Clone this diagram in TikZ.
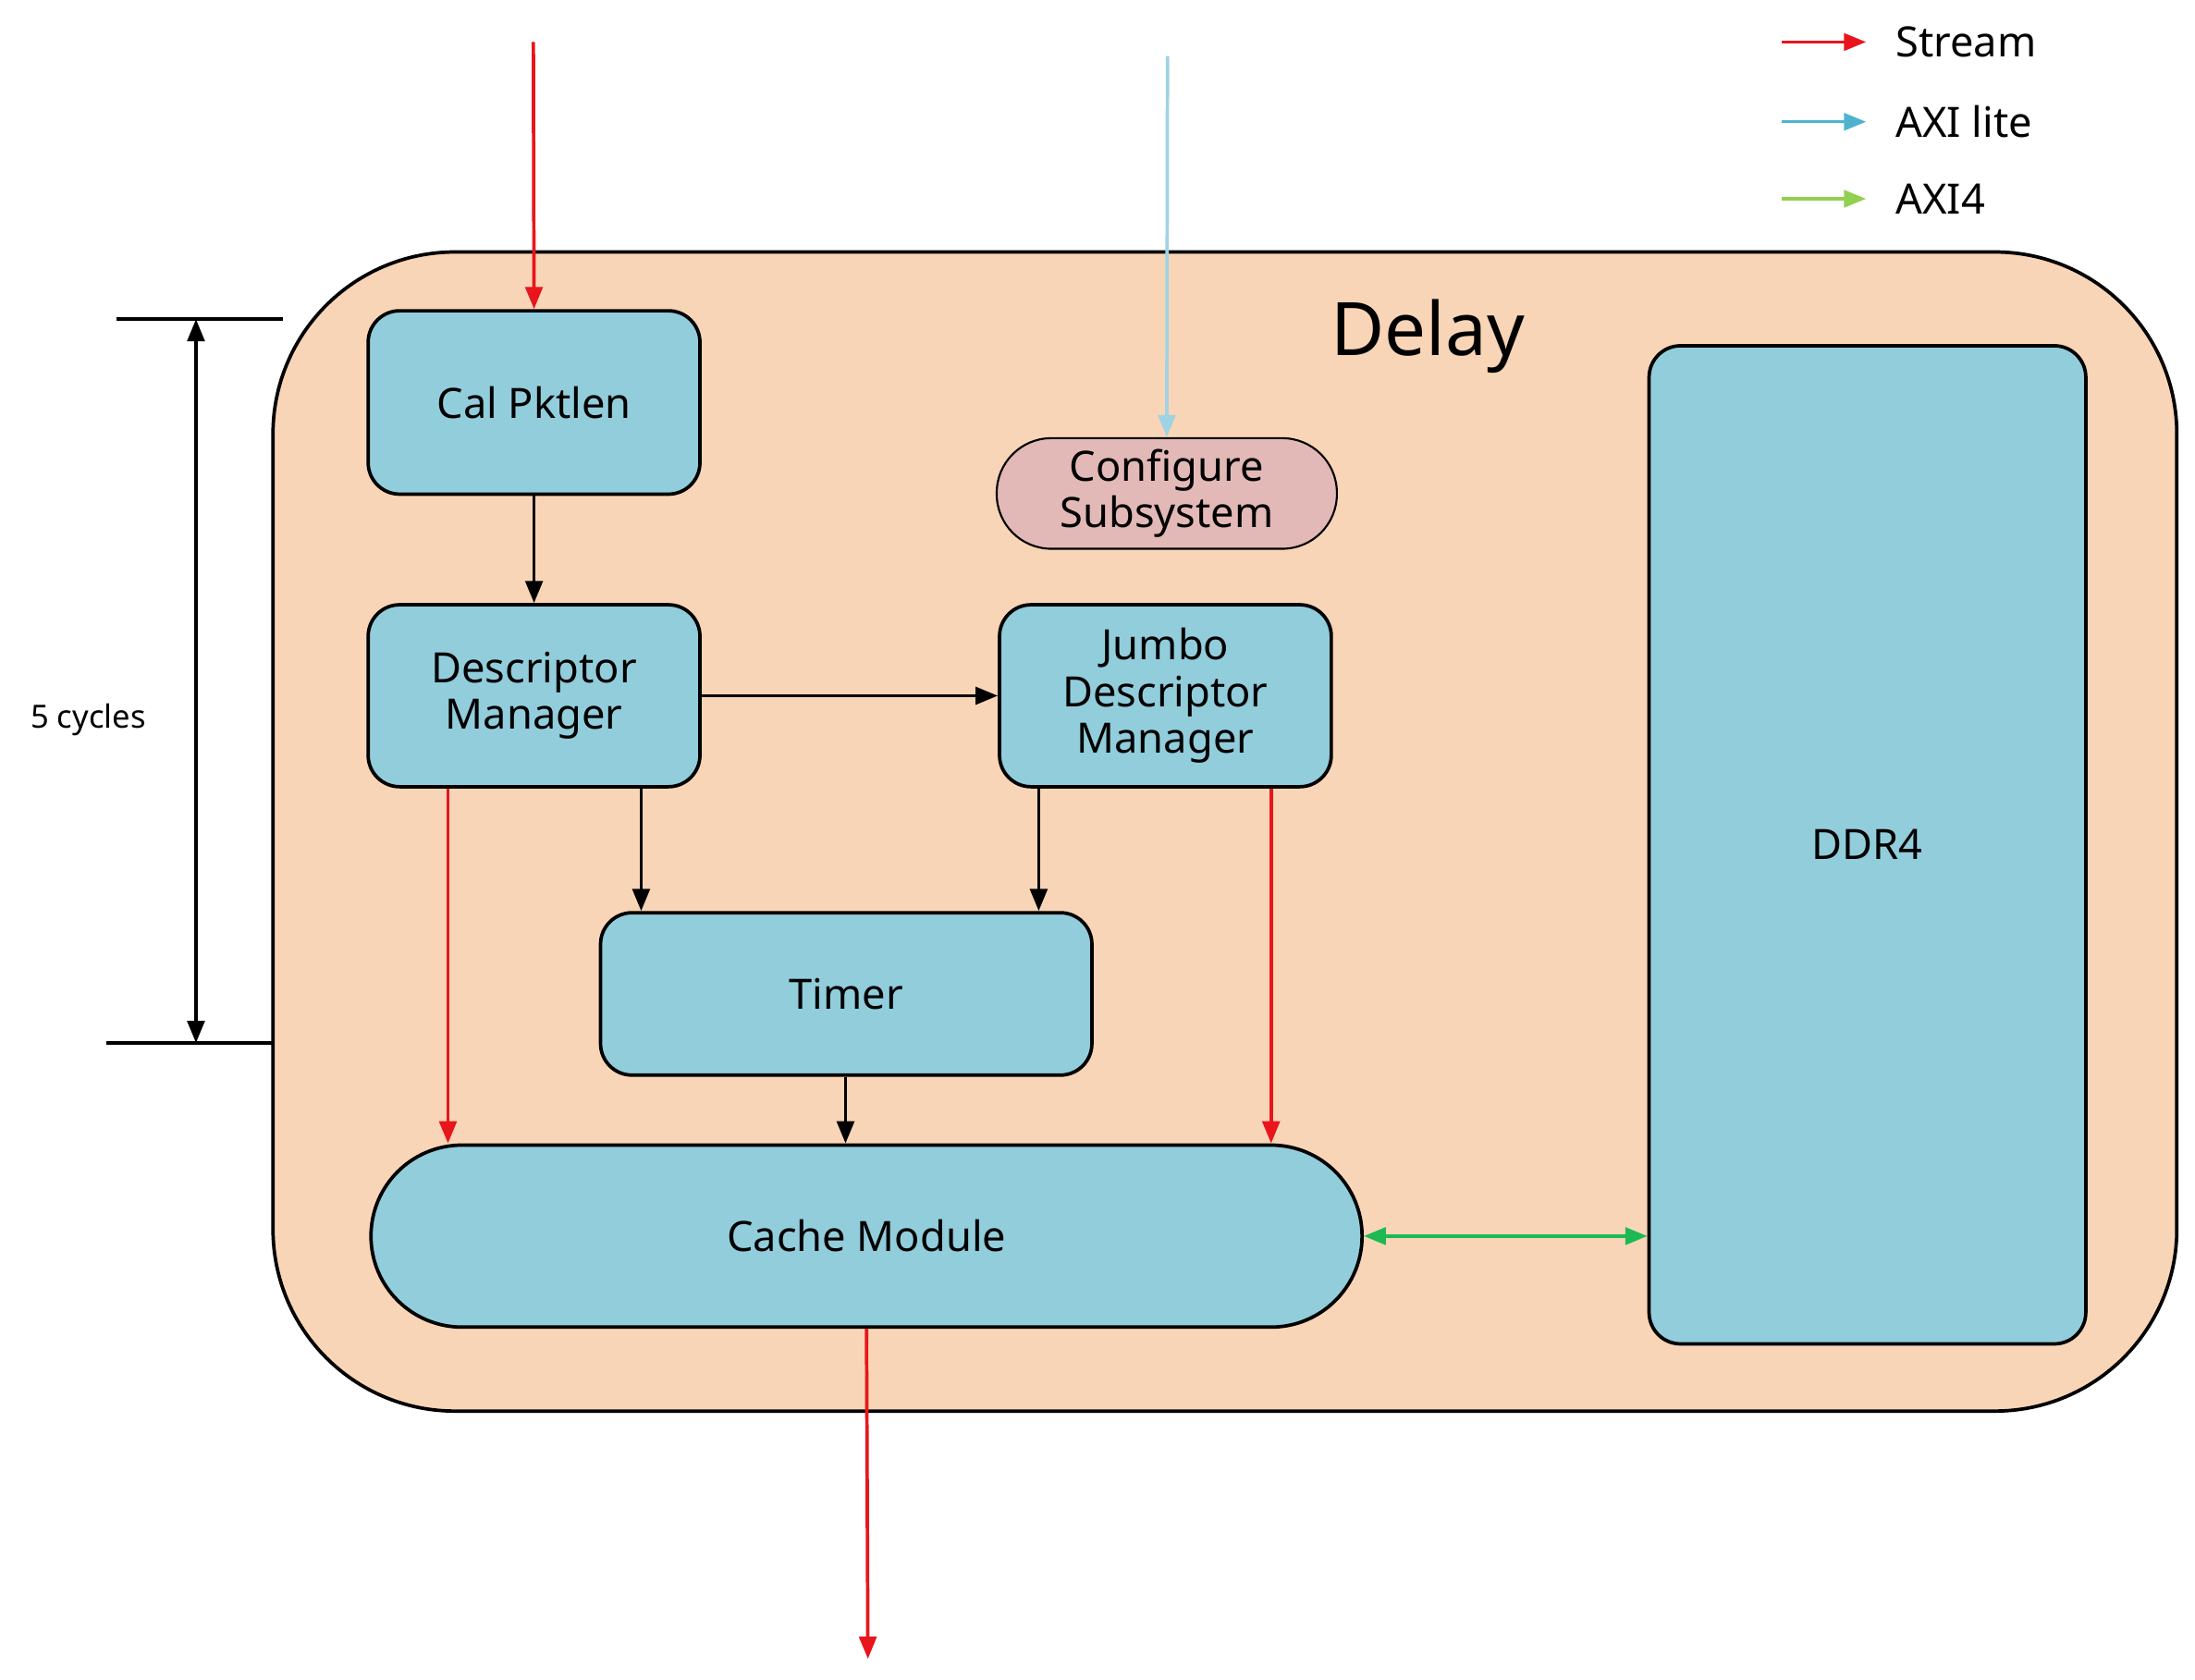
\documentclass[tikz,border=0pt]{standalone}
\usepackage{fontspec}
\setmainfont{Noto Sans}
\usetikzlibrary{arrows.meta,shapes.geometric}
\definecolor{peach}{HTML}{F9D5B7}
\definecolor{boxblue}{HTML}{92CDDC}
\definecolor{pinkc}{HTML}{E2B9B7}
\definecolor{axil}{HTML}{9FD3E4}
\definecolor{axileg}{HTML}{4FB3CF}
\definecolor{axifour}{HTML}{92D050}
\definecolor{grn}{HTML}{1DB954}
\definecolor{red}{HTML}{E8161C}
\begin{document}
\begin{tikzpicture}[x=0.02cm,y=-0.02cm,
 blk/.style={draw=black,line width=1.4pt,fill=boxblue,rounded corners=0.45cm,font=\fontsize{17}{19}\selectfont\bfseries,align=center,inner sep=0pt},
 arr/.style={line width=1.4pt,-{Triangle[length=9pt,width=7pt]}},
 lab/.style={font=\fontsize{17}{19}\selectfont\bfseries}]
\useasboundingbox (0,0) rectangle (1568,1200);
\node[draw=black,line width=1.4pt,fill=peach,rounded corners=2.6cm,minimum width=1360*0.02cm,minimum height=828*0.02cm,inner sep=0pt] (delay) at (875,594) {};
\node[font=\fontsize{30}{32}\selectfont\bfseries] (dt) at (1020,240) {Delay};
\node[blk,minimum width=237*0.02cm,minimum height=131*0.02cm] (cal) at (381.5,287.5) {Cal Pktlen};
\node[blk,minimum width=237*0.02cm,minimum height=130*0.02cm] (desc) at (381.5,497) {Descriptor\\Manager};
\node[blk,minimum width=237*0.02cm,minimum height=130*0.02cm] (jumbo) at (832.5,497) {Jumbo\\Descriptor\\Manager};
\node[blk,fill=pinkc,rounded corners=0.78cm,line width=0.8pt,minimum width=243*0.02cm,minimum height=79*0.02cm] (conf) at (833.5,352.5) {Configure\\Subsystem};
\node[blk,minimum width=351*0.02cm,minimum height=116*0.02cm] (timer) at (604.5,710) {Timer};
\node[blk,rounded corners=1.3cm,minimum width=708*0.02cm,minimum height=130*0.02cm] (cache) at (619,883) {Cache Module};
\node[blk,minimum width=312*0.02cm,minimum height=713*0.02cm] (ddr) at (1334,603.5) {DDR4};
% inputs
\coordinate (in1) at (381,30);
\draw[arr,red] (in1) -- (cal.north);
\coordinate (in2) at (834,40);
\draw[arr,axil] (in2) -- (conf.north);
\draw[arr] (cal.south) -- (desc.north);
\draw[arr] (desc.east) -- (jumbo.west);
\draw[arr,red] (desc.south -| 320,0) -- (cache.north -| 320,0);
\draw[arr] (desc.south -| 458,0) -- (timer.north -| 458,0);
\draw[arr] (jumbo.south -| 742,0) -- (timer.north -| 742,0);
\draw[arr,red] (jumbo.south -| 908,0) -- (cache.north -| 908,0);
\draw[arr] (timer.south -| 604,0) -- (cache.north -| 604,0);
\coordinate (out) at (620,1185);
\draw[arr,red] (cache.south) -- (out);
\draw[line width=1.4pt,grn,{Triangle[length=9pt,width=7pt]}-{Triangle[length=9pt,width=7pt]}] (cache.east) -- (ddr.west |- cache.east);
% bracket
\coordinate (b1a) at (83,228); \coordinate (b1b) at (202,228);
\coordinate (b2a) at (76,745); \coordinate (b2b) at (195,745);
\draw[line width=1.4pt] (b1a) -- (b1b); \draw[line width=1.4pt] (b2a) -- (b2b);
\coordinate (t1) at (140,228); \coordinate (t2) at (140,745);
\draw[line width=1.4pt,{Triangle[length=9pt,width=7pt]}-{Triangle[length=9pt,width=7pt]}] (t1) -- (t2);
\node[font=\fontsize{13}{15}\selectfont\bfseries] (cyc) at (63,514) {5 cycles};
% legend
\coordinate (l1a) at (1273,30); \coordinate (l1b) at (1333,30);
\coordinate (l2a) at (1273,87); \coordinate (l2b) at (1333,87);
\coordinate (l3a) at (1273,142); \coordinate (l3b) at (1333,142);
\draw[arr,red,line width=1.2pt] (l1a) -- (l1b);
\draw[arr,axileg,line width=1.2pt] (l2a) -- (l2b);
\draw[arr,axifour,line width=1.2pt] (l3a) -- (l3b);
\node[lab,anchor=west] (s) at (1348,30) {Stream};
\node[lab,anchor=west] (a) at (1348,87) {AXI lite};
\node[lab,anchor=west] (a4) at (1348,142) {AXI4};
\end{tikzpicture}
\end{document}
